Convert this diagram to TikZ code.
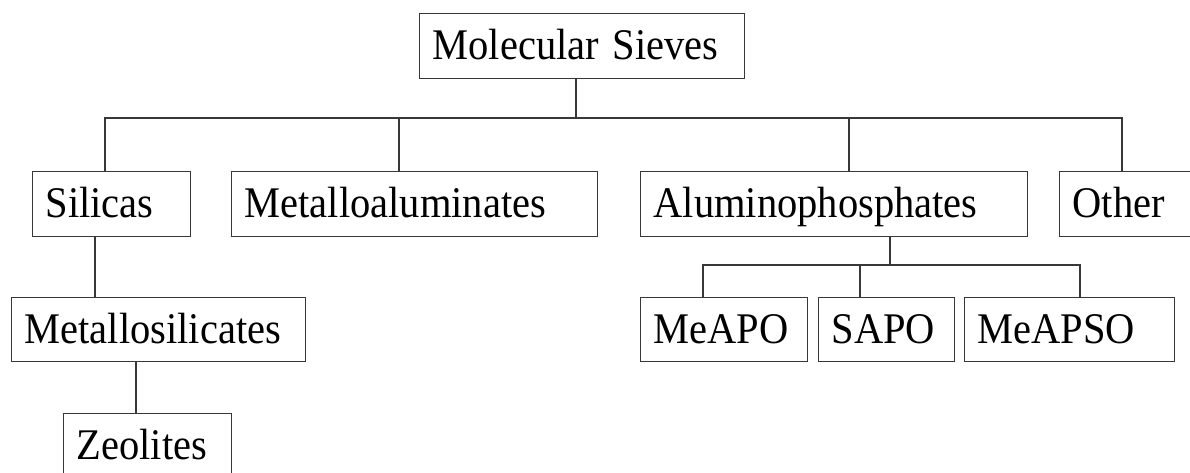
\documentclass[tikz,border=0pt]{standalone}
\usepackage{fontspec}
\usepackage{graphicx}
\setmainfont{Liberation Serif}
% slightly tall lettering for the box labels
\newcommand{\tallword}[1]{\scalebox{1}[1.08]{#1}}
\begin{document}
\begin{tikzpicture}[x=1pt,y=-1pt,
  box/.style={draw=black!78, line width=1.1pt, anchor=north west,
    inner xsep=13pt, inner ysep=0pt, minimum height=65pt,
    text height=27pt, text depth=0pt, align=left,
    font=\fontsize{40.5}{40.5}\selectfont},
  link/.style={draw=black!78, line width=1.1pt}]
\path[use as bounding box, clip] (0,0) rectangle (1190,473);
\fill[white] (0,0) rectangle (1190,473);

% boxes
\node[box, text width=299pt] (ms) at (419,13) {\tallword{Molecular Sieves}};
\node[box, text width=132pt] (sil) at (32,171) {\tallword{Silicas}};
\node[box, text width=340pt] (mal) at (231,171) {\tallword{Metalloaluminates}};
\node[box, text width=361pt] (alp) at (640,171) {\tallword{Aluminophosphates}};
\node[box, text width=114pt] (oth) at (1059,171) {\tallword{Other}};
\node[box, text width=268pt, minimum height=64pt] (mes) at (11,297) {\tallword{Metallosilicates}};
\node[box, text width=142pt] (zeo) at (63,413) {\tallword{Zeolites}};
\node[box, text width=141pt, minimum height=64pt] (meapo) at (640,297) {\tallword{MeAPO}};
\node[box, text width=110pt, minimum height=64pt] (sapo) at (818,297) {\tallword{SAPO}};
\node[box, text width=184pt, minimum height=64pt] (meapso) at (964,297) {\tallword{MeAPSO}};

% junction points
\coordinate (b0) at (576,118);
\coordinate (bs) at (105,118);
\coordinate (bm) at (399,118);
\coordinate (ba) at (849,118);
\coordinate (bo) at (1122,118);
\coordinate (c0) at (890,265);
\coordinate (c1) at (703,265);
\coordinate (c2) at (860,265);
\coordinate (c3) at (1080,265);
\coordinate (d) at (95,266);
\coordinate (e) at (136,387);

% top level
\draw[link] (ms.south -| b0) -- (b0);
\draw[link] (sil.north -| bs) -- (bs) -- (bo) -- (oth.north -| bo);
\draw[link] (bm) -- (mal.north -| bm);
\draw[link] (ba) -- (alp.north -| ba);

% aluminophosphate family
\draw[link] (alp.south -| c0) -- (c0);
\draw[link] (meapo.north -| c1) -- (c1) -- (c3) -- (meapso.north -| c3);
\draw[link] (c2) -- (sapo.north -| c2);

% silica chain
\draw[link] (sil.south -| d) -- (mes.north -| d);
\draw[link] (mes.south -| e) -- (zeo.north -| e);
\end{tikzpicture}
\end{document}
